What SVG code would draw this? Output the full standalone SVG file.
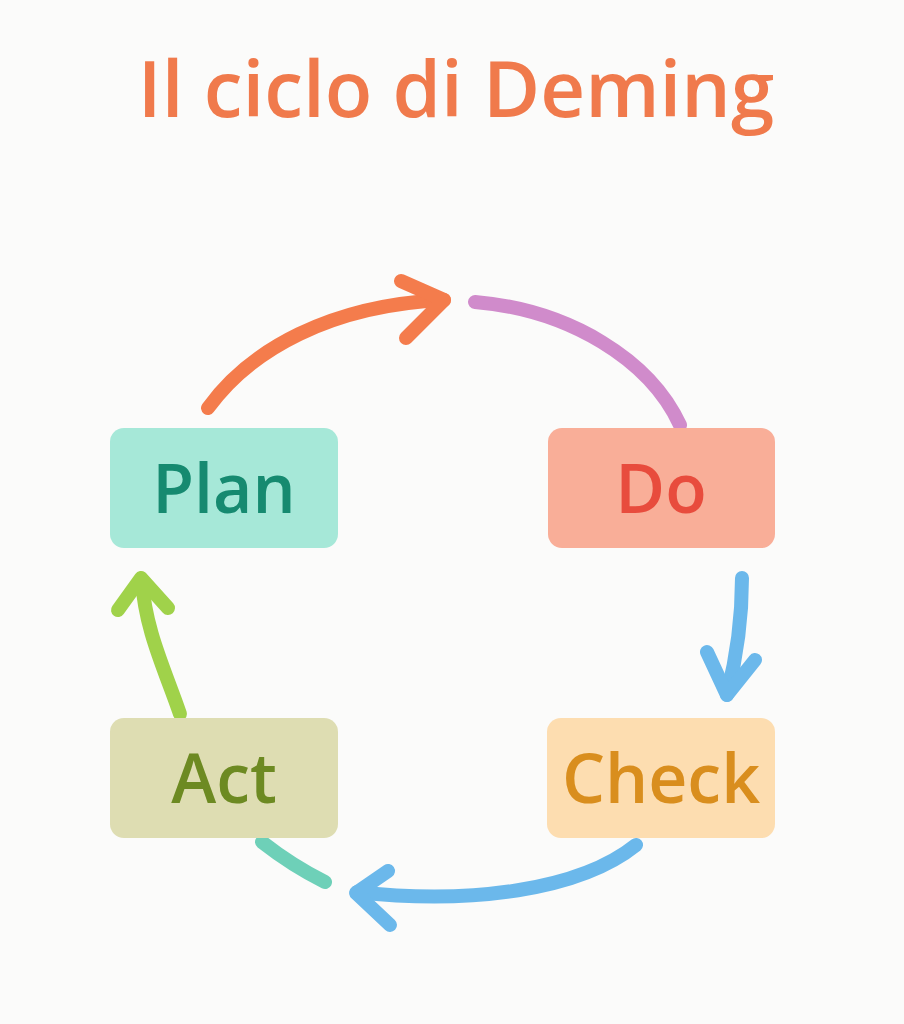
<svg xmlns="http://www.w3.org/2000/svg" width="904" height="1024" viewBox="0 0 904 1024">
<style>
.title{font-family:"Open Sans","Liberation Sans",sans-serif;font-size:78px;font-weight:600;fill:#F07A4C;text-anchor:middle;}
.lbl{font-family:"Open Sans","Liberation Sans",sans-serif;font-size:68px;font-weight:600;text-anchor:middle;}
.box{stroke:none;}
.c{fill:none;stroke-width:14;stroke-linecap:round;stroke-linejoin:round;}
</style>
<rect width="904" height="1024" fill="#FBFBFA"/>
<text class="title" x="456" y="117">Il ciclo di Deming</text>
<g id="connectors">
<path class="c" stroke="#F47C4C" d="M 208 408 C 250 350 330 305 444 300"/>
<path class="c" stroke="#F47C4C" d="M 401 281 L 444 300 L 406 338"/>
<path class="c" stroke="#D08BCB" d="M 475 302 C 570 310 650 360 680 425"/>
<path class="c" stroke="#6BB8EB" d="M 742 578 C 742 620 736 660 727 695"/>
<path class="c" stroke="#6BB8EB" d="M 707 652 L 727 695 L 755 660"/>
<path class="c" stroke="#6BB8EB" d="M 636 845 C 580 890 470 905 357 892"/>
<path class="c" stroke="#6BB8EB" d="M 388 871 L 356 893 L 390 925"/>
<path class="c" stroke="#6ED0B8" d="M 262 842 C 285 860 305 872 325 882"/>
<path class="c" stroke="#A0D24A" d="M 180 714 C 165 670 145 630 142 580"/>
<path class="c" stroke="#A0D24A" d="M 118 610 L 141 578 L 168 608"/>
</g>
<g id="plan">
<rect class="box" x="110" y="428" width="228" height="120" rx="14" fill="#A6E8D8"/>
<text class="lbl" x="224" y="513" fill="#168A70">Plan</text>
</g>
<g id="do">
<rect class="box" x="548" y="428" width="227" height="120" rx="14" fill="#F9AE98"/>
<text class="lbl" x="661" y="513" fill="#E84C3D">Do</text>
</g>
<g id="act">
<rect class="box" x="110" y="718" width="228" height="120" rx="14" fill="#DEDDB2"/>
<text class="lbl" x="224" y="803" fill="#6D8A22">Act</text>
</g>
<g id="check">
<rect class="box" x="547" y="718" width="228" height="120" rx="14" fill="#FDDDB0"/>
<text class="lbl" x="661" y="803" fill="#D98E1E">Check</text>
</g>
</svg>
